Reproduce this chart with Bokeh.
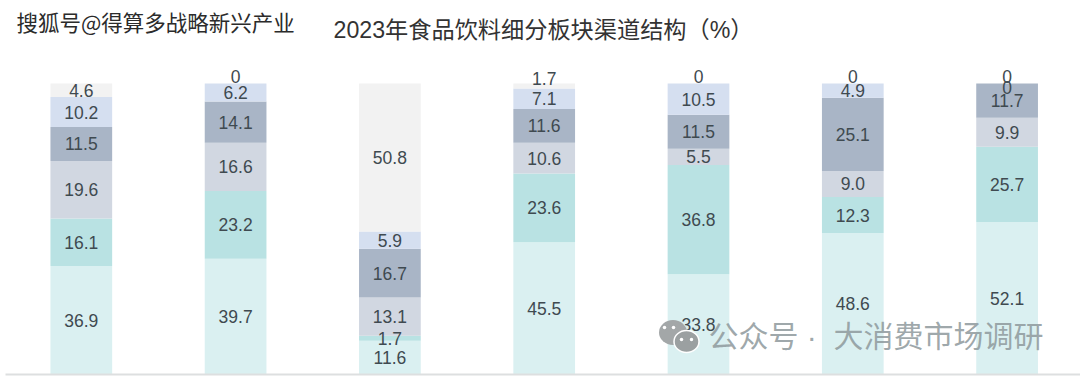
from bokeh.plotting import figure
from bokeh.models import ColumnDataSource, Range1d, Label
from bokeh.core.properties import value
from bokeh.embed import file_html
from bokeh.resources import INLINE

title = "2023年食品饮料细分板块渠道结构（%）"
positions = [0, 1, 2, 3, 4, 5, 6]
s1 = [36.9, 39.7, 11.6, 45.5, 33.8, 48.6, 52.1]
s2 = [16.1, 23.2, 1.7, 23.6, 36.8, 12.3, 25.7]
s3 = [19.6, 16.6, 13.1, 10.6, 5.5, 9.0, 9.9]
s4 = [11.5, 14.1, 16.7, 11.6, 11.5, 25.1, 11.7]
s5 = [10.2, 6.2, 5.9, 7.1, 10.5, 4.9, 0]
s6 = [4.6, 0, 50.8, 1.7, 0, 0, 0]
series = [s1, s2, s3, s4, s5, s6]
colors = ["#daf0f1", "#b9e2e3", "#d1d7e1", "#a9b5c6", "#d5dff0", "#f2f2f2"]

TOP, BOTTOM = 83.0, 374.0          # page y of 100 % and 0 %
C0, STEP = 80.8, 154.3             # page x of first bar and bar spacing
unit = (BOTTOM - TOP) / 100.0

# the rendered page places the figure at the window origin
ORIGIN = 0
W, H = 1080, 380
x0 = (ORIGIN - C0) / STEP
x1 = (ORIGIN + W - C0) / STEP
y0 = -(ORIGIN + H - BOTTOM) / unit
y1 = 100 + (TOP - ORIGIN) / unit

p = figure(width=W, height=H, output_backend="svg", toolbar_location=None,
           x_range=Range1d(x0, x1), y_range=Range1d(y0, y1),
           min_border=0, outline_line_color=None, background_fill_color="white",
           border_fill_color="white")
p.axis.visible = False
p.grid.visible = False

totals = [sum(s[i] for s in series) for i in positions]
bottoms = [0.0] * 7
for k, (vals, col) in enumerate(zip(series, colors)):
    shares = [v / t * 100 for v, t in zip(vals, totals)]
    tops = [b + sh for b, sh in zip(bottoms, shares)]
    src = ColumnDataSource(dict(x=positions, bottom=bottoms, top=tops))
    p.vbar(x="x", bottom="bottom", top="top", width=0.4, source=src,
           fill_color=col, line_color=None)
    offs = []
    for v in vals:
        if k == 5 and v < 2:
            offs.append(-7)
        elif k == 4 and v == 0:
            offs.append(4)
        else:
            offs.append(0)
    lab = ColumnDataSource(dict(x=positions, y=[(b + t) / 2 for b, t in zip(bottoms, tops)],
                                t=[("%g" % v) if v == 0 else ("%.1f" % v) for v in vals], o=offs))
    p.text(x="x", y="y", text="t", y_offset="o", source=lab, text_align="center",
           text_baseline="middle", text_font=value("Liberation Sans"),
           text_font_size="17.5px", text_color="#3f4a50", level="overlay")
    bottoms = tops


def sy(page_y):
    return ORIGIN + H - page_y


def dx(page_x):
    return (page_x - C0) / STEP


def dy(page_y):
    return (BOTTOM - page_y) / unit


p.line(x=[dx(5), dx(1080)], y=[0, 0], line_color="#dddfe0", line_width=2)

p.add_layout(Label(x=333 - ORIGIN, y=sy(29), x_units="screen", y_units="screen", text=title,
                   text_font="Liberation Sans, Noto Sans CJK SC", text_font_size="23.2px",
                   text_color="#333333", text_baseline="middle"))
p.add_layout(Label(x=16 - ORIGIN, y=sy(21), x_units="screen", y_units="screen",
                   text="搜狐号@得算多战略新兴产业", text_font="Noto Sans CJK SC",
                   text_font_size="21.5px", text_color="#2b2b2b", text_baseline="middle"))
p.add_layout(Label(x=708 - ORIGIN, y=sy(335.5), x_units="screen", y_units="screen",
                   text="公众号 · \u00a0大消费市场调研", text_font="Liberation Sans, Noto Sans CJK SC",
                   text_font_size="30px", text_color="#8e999c", text_alpha=0.85,
                   text_baseline="middle"))

# WeChat mark of the watermark
p.ellipse(x=[dx(672.5)], y=[dy(332)], width=28, height=25, width_units="screen",
          height_units="screen", fill_color="#a3a7a8", line_color=None, level="overlay")
p.ellipse(x=[dx(686)], y=[dy(341)], width=25, height=22, width_units="screen",
          height_units="screen", fill_color="#9ba0a1", line_color="white", line_width=1.5, level="overlay")
p.scatter(x=[dx(664), dx(673), dx(681), dx(691)], y=[dy(327), dy(327), dy(339), dy(339)],
          size=3.5, fill_color="white", line_color=None, level="overlay")

open("out.html", "w").write(file_html(p, INLINE))
